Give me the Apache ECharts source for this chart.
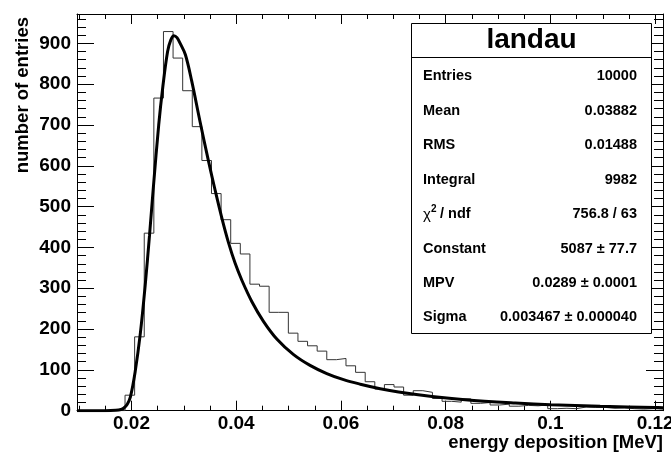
<!DOCTYPE html>
<html><head><meta charset="utf-8">
<script src="https://cdn.jsdelivr.net/npm/echarts@6/dist/echarts.min.js"></script>
<style>html,body{margin:0;padding:0;background:#fff}#c{width:671px;height:454px}</style>
</head><body><div id="c"></div>
<script>
// ---- data ----
const X_MIN = 0.0096, X_MAX = 0.1215, Y_MAX = 972;
const HIST_COUNTS = [0,0,0,0,0, 38,181,435,766,929, 864,784,696,613,532, 468,410,384,310,305,
  241,241,190,170,159, 146,125,128,110,94, 71,53,64,58,38, 49,45,30,23,21,
  29,18,20,14,16, 11,13,12,14,5, 6,5,9,8,8, 6,7,5,4,5, 4];
const FIT_X = [0.0096,0.0150,0.0170,0.0180,0.0185,0.0192,0.0198,0.0207,0.0217,0.0226,0.02345,0.0242,0.0252,0.0260,0.0269,0.0275,0.0281,0.0287,0.0293,0.0303,0.0315,0.0331,0.0347,0.0360,0.0373,0.0385,0.0398,0.0411,0.0430,0.0452,0.0478,0.0509,0.0541,0.0573,0.0605,0.0637,0.0675,0.0710,0.0774,0.0837,0.0933,0.1000,0.1095,0.1200,0.1215];
const FIT_Y = [0,0,1,3,6,16,34,95,190,304,430,550,700,795,880,908,919,914,900,872,808,708,612,539,470,413,361,319,267,219,175,138,111,91,76,65,54,46,35,27,19,14.7,10.8,7.8,7.5];
const X_MAJOR = [0.02,0.04,0.06,0.08,0.1,0.12];
const X_MINOR = [0.01,0.015,0.025,0.03,0.035,0.045,0.05,0.055,0.065,0.07,0.075,0.085,0.09,0.095,0.105,0.11,0.115];
const Y_MAJOR = [0,100,200,300,400,500,600,700,800,900];
const Y_MINOR = [20,40,60,80,120,140,160,180,220,240,260,280,320,340,360,380,420,440,460,480,520,540,560,580,620,640,660,680,720,740,760,780,820,840,860,880,920,940,960];
const STAT_TITLE = 'landau';
const STAT_LABELS = ['Entries','Mean','RMS','Integral','CHI2','Constant','MPV','Sigma'];
const STAT_VALUES = ['10000','0.03882','0.01488','9982','756.8 / 63','5087 ± 77.7','0.0289 ± 0.0001','0.003467 ± 0.000040'];
const X_TITLE = 'energy deposition [MeV]';
const Y_TITLE = 'number of entries';

// ---- build ----
const FONT = '"Liberation Sans", Arial, Helvetica, sans-serif';
const nb = HIST_COUNTS.length, bw = (X_MAX - X_MIN) / nb;
const histPts = [];
HIST_COUNTS.forEach((c, i) => { histPts.push([X_MIN + i * bw, c]); histPts.push([X_MIN + (i + 1) * bw, c]); });
const fitPts = FIT_X.map((x, i) => [x, FIT_Y[i]]);

const lineBlack = { color: '#000', width: 1 };
function xAx(pos, vals, len, showLine, showLabel) {
  return {
    type: 'value', min: X_MIN, max: X_MAX, position: pos,
    axisLine: { show: showLine, onZero: false, lineStyle: lineBlack },
    axisTick: { show: true, inside: true, length: len, customValues: vals, lineStyle: lineBlack },
    axisLabel: showLabel ? { show: true, customValues: vals, formatter: v => String(+(+v).toFixed(3)),
      fontSize: 19, fontWeight: 'bold', fontFamily: FONT, color: '#000', margin: 4 } : { show: false },
    splitLine: { show: false }, minorTick: { show: false }
  };
}
function yAx(pos, vals, len, showLine, showLabel) {
  return {
    type: 'value', min: 0, max: Y_MAX, position: pos,
    axisLine: { show: showLine, onZero: false, lineStyle: lineBlack },
    axisTick: { show: true, inside: true, length: len, customValues: vals, lineStyle: lineBlack },
    axisLabel: showLabel ? { show: true, customValues: vals, fontSize: 19, fontWeight: 'bold',
      fontFamily: FONT, color: '#000', margin: 6 } : { show: false },
    splitLine: { show: false }, minorTick: { show: false }
  };
}

const g = [];
const bx = 411.5, by = 23.5, bwid = 240, bh = 310;
g.push({ type: 'rect', shape: { x: bx, y: by, width: bwid, height: bh }, style: { fill: '#fff', stroke: '#000', lineWidth: 1 }, z: 100 });
g.push({ type: 'line', shape: { x1: bx, y1: 57.5, x2: bx + bwid, y2: 57.5 }, style: { stroke: '#000', lineWidth: 1 }, z: 101 });
g.push({ type: 'text', z: 102, style: { text: STAT_TITLE, x: bx + bwid / 2, y: 40.5, font: 'bold 28px ' + FONT,
  fill: '#000', textAlign: 'center', textVerticalAlign: 'middle', align: 'center', verticalAlign: 'middle' } });
const rowY = [76, 110.5, 145, 179.5, 214, 248.5, 282.5, 317];
STAT_LABELS.forEach((lab, i) => {
  const y = rowY[i];
  if (lab === 'CHI2') {
    g.push({ type: 'text', z: 102, style: { text: 'χ', x: 423, y: y + 1, font: '15px ' + FONT, fill: '#000', textAlign: 'left', textVerticalAlign: 'middle', align: 'left', verticalAlign: 'middle' } });
    g.push({ type: 'text', z: 102, style: { text: '2', x: 431, y: y - 5, font: 'bold 10px ' + FONT, fill: '#000', textAlign: 'left', textVerticalAlign: 'middle', align: 'left', verticalAlign: 'middle' } });
    g.push({ type: 'text', z: 102, style: { text: ' / ndf', x: 436, y: y, font: 'bold 14.5px ' + FONT, fill: '#000', textAlign: 'left', textVerticalAlign: 'middle', align: 'left', verticalAlign: 'middle' } });
  } else {
    g.push({ type: 'text', z: 102, style: { text: lab, x: 423, y: y, font: 'bold 14.5px ' + FONT, fill: '#000', textAlign: 'left', textVerticalAlign: 'middle', align: 'left', verticalAlign: 'middle' } });
  }
  g.push({ type: 'text', z: 102, style: { text: STAT_VALUES[i], x: 637, y: y, font: 'bold 14.5px ' + FONT, fill: '#000', textAlign: 'right', textVerticalAlign: 'middle', align: 'right', verticalAlign: 'middle' } });
});
g.push({ type: 'text', z: 102, style: { text: X_TITLE, x: 663, y: 443, font: 'bold 18.5px ' + FONT, fill: '#000', textAlign: 'right', textVerticalAlign: 'middle', align: 'right', verticalAlign: 'middle' } });
g.push({ type: 'text', z: 102, x: 23, y: 17, rotation: Math.PI / 2, style: { text: Y_TITLE, x: 0, y: 0, font: 'bold 18.5px ' + FONT, fill: '#000', textAlign: 'right', textVerticalAlign: 'middle', align: 'right', verticalAlign: 'middle' } });

const chart = echarts.init(document.getElementById('c'), null, { renderer: 'canvas' });
chart.setOption({
  animation: false,
  backgroundColor: '#fff',
  grid: { left: 77, top: 14, width: 586, height: 396.7, containLabel: false, outerBoundsMode: 'none' },
  xAxis: [
    xAx('bottom', X_MAJOR, 10, true, true),
    xAx('bottom', X_MINOR, 5, false, false),
    xAx('top', X_MAJOR, 10, true, false),
    xAx('top', X_MINOR, 5, false, false)
  ],
  yAxis: [
    yAx('left', Y_MAJOR, 17, true, true),
    yAx('left', Y_MINOR, 9, false, false),
    yAx('right', Y_MAJOR, 17, true, false),
    yAx('right', Y_MINOR, 9, false, false)
  ],
  series: [
    { type: 'line', data: histPts, xAxisIndex: 0, yAxisIndex: 0, showSymbol: false, symbol: 'none',
      lineStyle: { color: '#333', width: 1 }, clip: true, z: 3 },
    { type: 'line', data: fitPts, xAxisIndex: 0, yAxisIndex: 0, showSymbol: false, symbol: 'none', smooth: 0.35,
      lineStyle: { color: '#000', width: 3 }, clip: true, z: 4 }
  ],
  graphic: { elements: g }
});
</script></body></html>
